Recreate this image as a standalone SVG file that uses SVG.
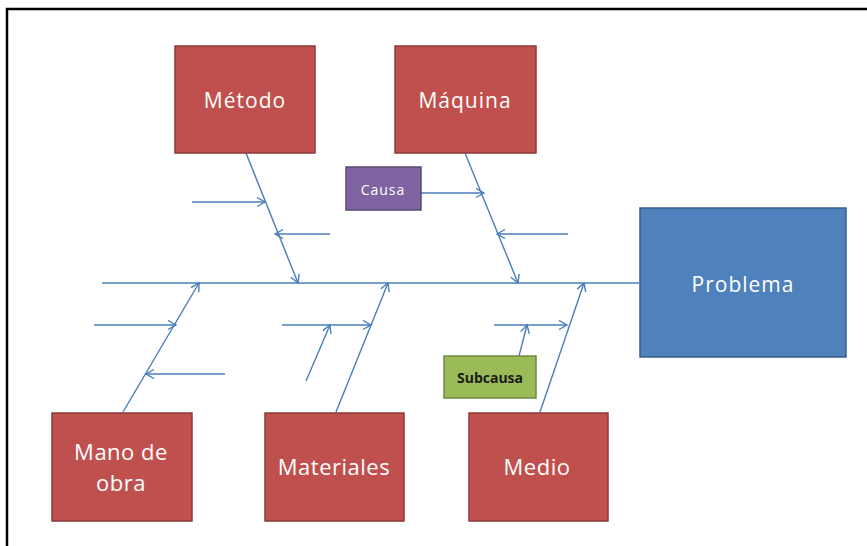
<svg xmlns="http://www.w3.org/2000/svg" width="867" height="546" viewBox="0 0 867 546">
  <style>
    .frame { fill: none; stroke: #000; stroke-width: 2.5; }
    .cat rect { fill: #C0504D; stroke: #8C3A38; stroke-width: 1.5; }
    .prob rect { fill: #4F81BD; stroke: #385D8A; stroke-width: 1.5; }
    .causa rect { fill: #8064A2; stroke: #5C4776; stroke-width: 1.5; }
    .sub rect { fill: #9BBB59; stroke: #71893F; stroke-width: 1.5; }
    text { font-family: "Open Sans", "Liberation Sans", sans-serif; text-anchor: middle; }
    .lbl { fill: #fff; font-size: 21px; letter-spacing: 1px; }
    .lbl2 { fill: #fff; font-size: 22px; letter-spacing: 0.5px; }
    .small { fill: #fff; font-size: 14px; letter-spacing: 1px; }
    .subt { fill: #1a1a1a; font-size: 14px; font-weight: bold; }
    #connectors line { stroke: #4A7EBB; stroke-width: 1.4; fill: none; }
    #connectors .a { marker-end: url(#arr); }
  </style>
  <defs>
    <marker id="arr" markerUnits="userSpaceOnUse" markerWidth="12" markerHeight="12" refX="9" refY="5" orient="auto">
      <path d="M1,0.5 L9,5 L1,9.5" fill="none" stroke="#4A7EBB" stroke-width="1.4"/>
    </marker>
  </defs>

  <rect width="867" height="546" fill="#fff"/>
  <path class="frame" d="M7,546 V9 H867"/>

  <g id="connectors">
    <!-- spine -->
    <line x1="102" y1="283" x2="639" y2="283"/>
    <!-- Método branch -->
    <line class="a" x1="246" y1="153" x2="298" y2="283"/>
    <line class="a" x1="192" y1="202" x2="265" y2="202"/>
    <line class="a" x1="330" y1="234" x2="275" y2="234"/>
    <!-- Máquina branch -->
    <line class="a" x1="465" y1="153" x2="518" y2="283"/>
    <line class="a" x1="421" y1="193" x2="484" y2="193"/>
    <line class="a" x1="568" y1="234" x2="497" y2="234"/>
    <!-- Mano de obra branch -->
    <line class="a" x1="123" y1="412" x2="199" y2="283"/>
    <line class="a" x1="94" y1="325" x2="176" y2="325"/>
    <line class="a" x1="225" y1="374" x2="146" y2="374"/>
    <!-- Materiales branch -->
    <line class="a" x1="336" y1="412" x2="388" y2="283"/>
    <line class="a" x1="282" y1="325" x2="371" y2="325"/>
    <line class="a" x1="306" y1="381" x2="330" y2="325"/>
    <!-- Medio branch -->
    <line class="a" x1="540" y1="412" x2="584" y2="283"/>
    <line class="a" x1="494" y1="325" x2="567" y2="325"/>
    <line class="a" x1="519" y1="356" x2="527" y2="325"/>
  </g>

  <g id="metodo" class="cat">
    <rect x="175" y="46" width="140" height="107"/>
    <text class="lbl" x="245" y="108">Método</text>
  </g>
  <g id="maquina" class="cat">
    <rect x="395" y="46" width="141" height="107"/>
    <text class="lbl" x="465" y="108">Máquina</text>
  </g>
  <g id="causa" class="causa">
    <rect x="346" y="167" width="75" height="43"/>
    <text class="small" x="383" y="195">Causa</text>
  </g>
  <g id="problema" class="prob">
    <rect x="640" y="208" width="206" height="149"/>
    <text class="lbl" x="743" y="292">Problema</text>
  </g>
  <g id="subcausa" class="sub">
    <rect x="444" y="356" width="92" height="42"/>
    <text class="subt" x="490" y="383">Subcausa</text>
  </g>
  <g id="mano-de-obra" class="cat">
    <rect x="52" y="413" width="140" height="108"/>
    <text class="lbl2" x="121" y="460">Mano de</text>
    <text class="lbl2" x="121" y="491">obra</text>
  </g>
  <g id="materiales" class="cat">
    <rect x="265" y="413" width="139" height="108"/>
    <text class="lbl2" x="334" y="475">Materiales</text>
  </g>
  <g id="medio" class="cat">
    <rect x="469" y="413" width="139" height="108"/>
    <text class="lbl2" x="537" y="475">Medio</text>
  </g>
</svg>
